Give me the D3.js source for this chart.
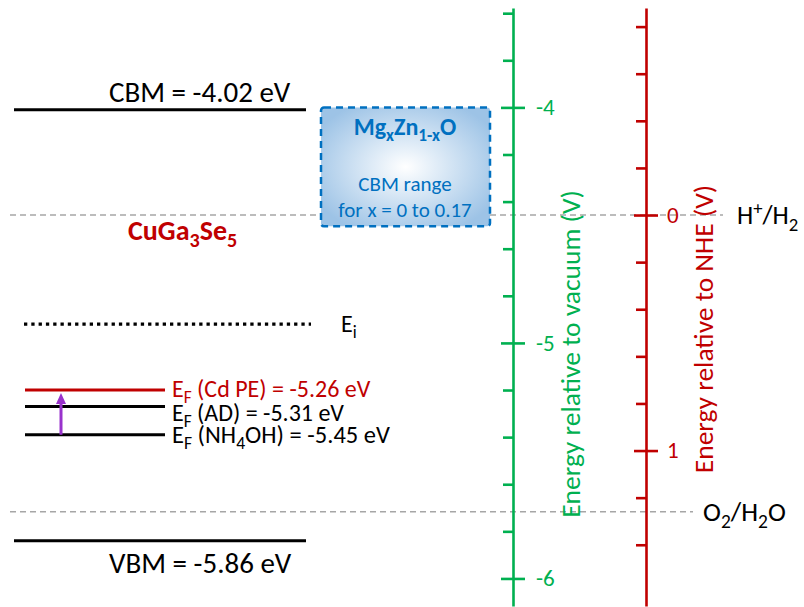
<!DOCTYPE html>
<html><head><meta charset="utf-8">
<script src="https://cdn.jsdelivr.net/npm/d3@7"></script>
<style>body{margin:0;background:#fff} svg{display:block} text{font-family:Carlito,Calibri,Lato,sans-serif}</style>
</head><body><svg id="c" width="804" height="607"></svg>
<script>
// ---------------- data ----------------
const vacuumMajorTicks = [-4, -5, -6];
const vacuumMinorTicks = [-3.6, -3.8, -4.2, -4.4, -4.6, -4.8, -5.2, -5.4, -5.6, -5.8];
const nheMajorTicks = [0, 1];
const nheMinorTicks = [-0.8, -0.6, -0.4, -0.2, 0.2, 0.4, 0.6, 0.8, 1.2, 1.4];
const vacuumExtent = [-3.578, -6.117];
const nheZeroOnVacuum = -4.457;
const levelNames = ["CBM", "Ei", "EF_CdPE", "EF_AD", "EF_NH4OH", "VBM"];
const levelEnergies = [-4.01, -4.92, -5.20, -5.27, -5.39, -5.84];
const levelLabels = [
  [["CBM = -4.02 eV"]],
  [["E"], ["i", "sub"]],
  [["E"], ["F", "sub"], [" (Cd PE) = -5.26 eV"]],
  [["E"], ["F", "sub"], [" (AD) = -5.31 eV"]],
  [["E"], ["F", "sub"], [" (NH"], ["4", "sub"], ["OH) = -5.45 eV"]],
  [["VBM = -5.86 eV"]]
];
const redoxLabels = [
  [["H"], ["+", "sup"], ["/H"], ["2", "sub"]],
  [["O"], ["2", "sub"], ["/H"], ["2", "sub"], ["O"]]
];
const redoxNHE = [0, 1.26];
const mgznoCBMRange = [-4.00, -4.505];
const materialLabel = [["CuGa"], ["3", "sub"], ["Se"], ["5", "sub"]];
const boxTitle = [["Mg"], ["x", "sub"], ["Zn"], ["1-x", "sub"], ["O"]];
const boxLines = ["CBM range", "for x = 0 to 0.17"];
const shiftArrow = ["EF_NH4OH", "EF_CdPE"];

// ---------------- colours / layout ----------------
const GREEN = "#00B050", RED = "#C00000", BLUE = "#0070C0", PURPLE = "#9932CC", GRAY = "#A6A6A6";
const svg = d3.select("#c");

const yV = d3.scaleLinear().domain(vacuumExtent).range([8, 606]);
const yN = d3.scaleLinear()
  .domain([nheZeroOnVacuum - vacuumExtent[0], nheZeroOnVacuum - vacuumExtent[1]])
  .range([8, 606]);

function rich(textSel, segs, size, subScale = 0.7) {
  let cur = 0;
  segs.forEach(([t, k]) => {
    const target = k === "sub" ? 0.26 * size : k === "sup" ? -0.36 * size : 0;
    textSel.append("tspan")
      .attr("dy", target - cur)
      .attr("font-size", k ? subScale * size : size)
      .text(t);
    cur = target;
  });
  return textSel;
}

// defs
const defs = svg.append("defs");
const rg = defs.append("radialGradient").attr("id", "boxfill").attr("cx", "50%").attr("cy", "50%").attr("r", "60%");
rg.append("stop").attr("offset", "0%").attr("stop-color", "#ffffff");
rg.append("stop").attr("offset", "100%").attr("stop-color", "#9dc3e6");

// reference dashed lines (redox)
const redoxX1 = [723, 693], redoxLabelX = [737, 703], redoxSize = [26, 27];
redoxNHE.forEach((v, i) => {
  svg.append("line").attr("x1", 10).attr("x2", redoxX1[i])
    .attr("y1", yN(v)).attr("y2", yN(v))
    .attr("stroke", GRAY).attr("stroke-width", 1.5).attr("stroke-dasharray", "6,4");
  rich(svg.append("text").attr("x", redoxLabelX[i]).attr("y", yN(v) + 9).attr("fill", "#000"), redoxLabels[i], redoxSize[i], 0.72);
});

// MgZnO box
svg.append("rect").attr("x", 321).attr("width", 169)
  .attr("y", yV(mgznoCBMRange[0])).attr("height", yV(mgznoCBMRange[1]) - yV(mgznoCBMRange[0]))
  .attr("rx", 3).attr("fill", "url(#boxfill)")
  .attr("stroke", BLUE).attr("stroke-width", 2.5).attr("stroke-dasharray", "7,5");
rich(svg.append("text").attr("x", 405).attr("y", 135).attr("text-anchor", "middle")
  .attr("fill", BLUE).attr("font-weight", "bold"), boxTitle, 24, 0.72);
boxLines.forEach((t, i) => {
  svg.append("text").attr("x", 405).attr("y", 191 + i * 26).attr("text-anchor", "middle")
    .attr("fill", BLUE).attr("font-size", 21).text(t);
});

// energy levels
const levelStyle = {
  CBM: {x0: 14, x1: 306, color: "#000", dash: null, lx: 109, ly: -8, size: 29},
  Ei: {x0: 24, x1: 311, color: "#000", dash: "3.3,4", lx: 341, ly: 8, size: 24},
  EF_CdPE: {x0: 25, x1: 165, color: RED, dash: null, lx: 172, ly: 7, size: 24},
  EF_AD: {x0: 25, x1: 165, color: "#000", dash: null, lx: 172, ly: 14, size: 24},
  EF_NH4OH: {x0: 25, x1: 165, color: "#000", dash: null, lx: 172, ly: 8, size: 24.5},
  VBM: {x0: 14, x1: 306, color: "#000", dash: null, lx: 109, ly: 32, size: 29}
};
levelNames.forEach((n, i) => {
  const s = levelStyle[n], y = yV(levelEnergies[i]);
  svg.append("line").attr("x1", s.x0).attr("x2", s.x1).attr("y1", y).attr("y2", y)
    .attr("stroke", s.color).attr("stroke-width", 3.2)
    .attr("stroke-dasharray", s.dash);
  rich(svg.append("text").attr("x", s.lx).attr("y", y + s.ly).attr("fill", s.color), levelLabels[i], s.size, 0.72);
});

// arrow
const aFrom = yV(levelEnergies[levelNames.indexOf(shiftArrow[0])]);
const aTo = yV(levelEnergies[levelNames.indexOf(shiftArrow[1])]) + 3;
svg.append("line").attr("x1", 61).attr("x2", 61).attr("y1", aFrom).attr("y2", aTo + 9)
  .attr("stroke", PURPLE).attr("stroke-width", 3);
svg.append("path").attr("d", `M61,${aTo} L66,${aTo + 11} L56,${aTo + 11} Z`).attr("fill", PURPLE);

// material label
rich(svg.append("text").attr("x", 128).attr("y", 240).attr("fill", RED).attr("font-weight", "bold"), materialLabel, 28, 0.72);

// axes
function drawAxis(x, scale, major, minor, color, pad) {
  const g = svg.append("g").attr("transform", `translate(${x},0)`);
  g.call(d3.axisLeft(scale).tickValues(minor).tickSize(10).tickSizeOuter(0).tickFormat(""));
  g.append("g").call(d3.axisLeft(scale).tickValues(major).tickSize(12).tickSizeOuter(0).tickFormat(""))
    .select(".domain").remove();
  g.append("g").call(d3.axisRight(scale).tickValues(major).tickSize(12).tickSizeOuter(0).tickPadding(pad).tickFormat(d => String(d)))
    .select(".domain").remove();
  g.selectAll("path,line").attr("stroke", color).attr("stroke-width", 2.6);
  g.selectAll("text").attr("fill", color).attr("font-size", 23).attr("font-family", "Carlito,Calibri,Lato,sans-serif");
  return g;
}
drawAxis(513, yV, vacuumMajorTicks, vacuumMinorTicks, GREEN, 11);
drawAxis(646, yN, nheMajorTicks, nheMinorTicks, RED, 9);

// axis titles
svg.append("text").attr("transform", "translate(580,354) rotate(-90)").attr("text-anchor", "middle")
  .attr("fill", GREEN).attr("font-size", 27.5).text("Energy relative to vacuum (V)");
svg.append("text").attr("transform", "translate(713,329) rotate(-90)").attr("text-anchor", "middle")
  .attr("fill", RED).attr("font-size", 27.5).text("Energy relative to NHE (V)");
</script></body></html>
